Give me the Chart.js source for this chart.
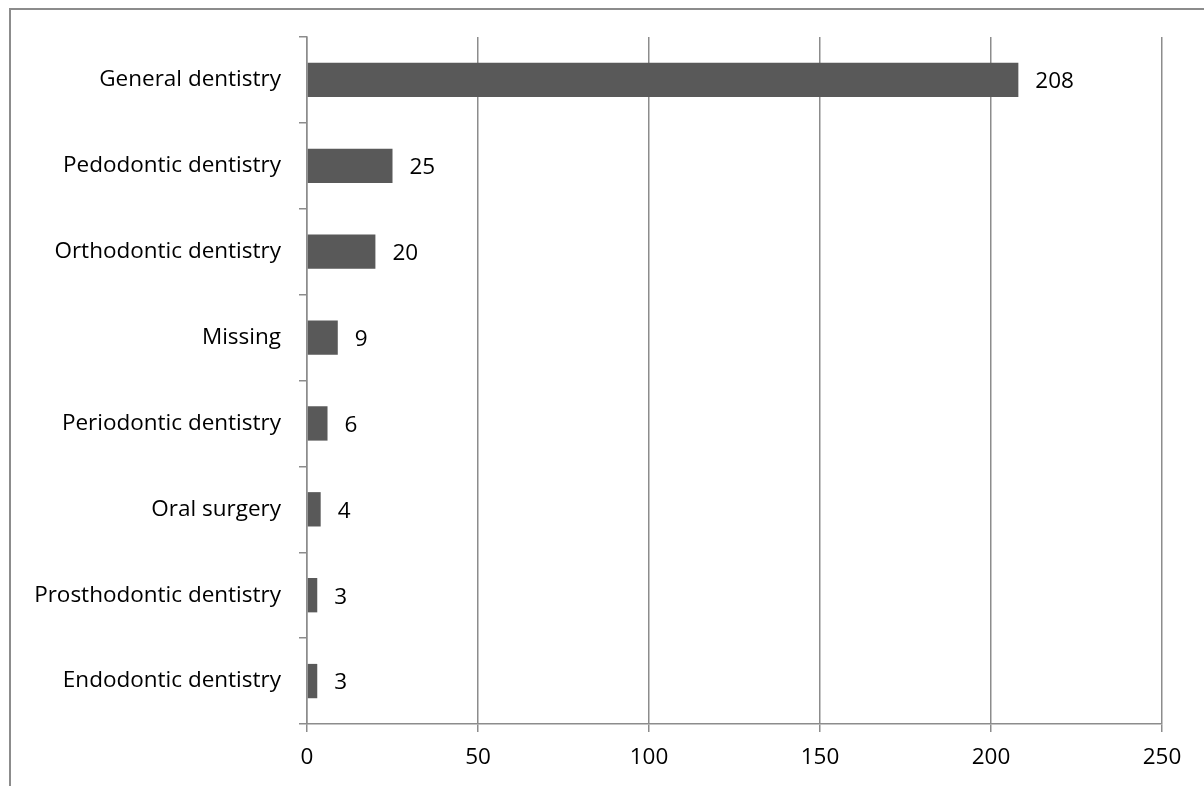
<!DOCTYPE html>
<html>
<head>
<meta charset="utf-8">
<script src="https://cdn.jsdelivr.net/npm/chart.js@4"></script>
<style>
  html, body { margin: 0; padding: 0; background: #fff; overflow: hidden; }
  #frame { position: absolute; left: 9px; top: 8px; width: 1300px; height: 900px;
           border-top: 2px solid #8c8c8c; border-left: 2px solid #8c8c8c; }
  #wrap { position: absolute; left: 0; top: 0; width: 1204px; height: 786px; }
</style>
</head>
<body>
<div id="frame"></div>
<div id="wrap"><canvas id="chart"></canvas></div>
<script>
const categories = [
  'General dentistry',
  'Pedodontic dentistry',
  'Orthodontic dentistry',
  'Missing',
  'Periodontic dentistry',
  'Oral surgery',
  'Prosthodontic dentistry',
  'Endodontic dentistry'
];
const counts = [208, 25, 20, 9, 6, 4, 3, 3];
const xTicks = [0, 50, 100, 150, 200, 250];

const AXIS_GRAY = '#8c8c8c';
const FONT = { family: 'Open Sans', size: 22.5 };

// value label just right of each bar end
const barLabels = {
  id: 'barLabels',
  afterDatasetsDraw(chart) {
    const { ctx } = chart;
    const meta = chart.getDatasetMeta(0);
    ctx.save();
    ctx.font = `${FONT.size}px ${FONT.family}`;
    ctx.fillStyle = '#000';
    ctx.textAlign = 'left';
    ctx.textBaseline = 'middle';
    meta.data.forEach((bar, i) => {
      ctx.fillText(String(counts[i]), bar.x + 17, bar.y + 2);
    });
    ctx.restore();
  }
};

new Chart(document.getElementById('chart'), {
  type: 'bar',
  data: {
    labels: categories,
    datasets: [{
      data: counts,
      backgroundColor: '#595959',
      barPercentage: 0.4,
      categoryPercentage: 1
    }]
  },
  options: {
    indexAxis: 'y',
    responsive: true,
    maintainAspectRatio: false,
    animation: false,
    layout: { padding: { top: 37, right: 42, left: 0, bottom: 0 } },
    plugins: { legend: { display: false }, tooltip: { enabled: false } },
    scales: {
      x: {
        min: 0,
        max: 250,
        afterBuildTicks: s => { s.ticks = xTicks.map(v => ({ value: v })); },
        afterFit: s => { s.height = 62; },
        grid: { color: AXIS_GRAY, lineWidth: 1.5, tickLength: 8, drawTicks: true },
        border: { color: AXIS_GRAY, width: 1.5 },
        ticks: { color: '#000', font: FONT, padding: 12 }
      },
      y: {
        afterFit: s => { s.width = 307; },
        grid: { offset: true, drawOnChartArea: false, tickLength: 8, color: AXIS_GRAY, lineWidth: 1.5 },
        border: { color: AXIS_GRAY, width: 1.5 },
        ticks: { color: '#000', font: FONT, padding: 18 }
      }
    }
  },
  plugins: [barLabels]
});
</script>
</body>
</html>
